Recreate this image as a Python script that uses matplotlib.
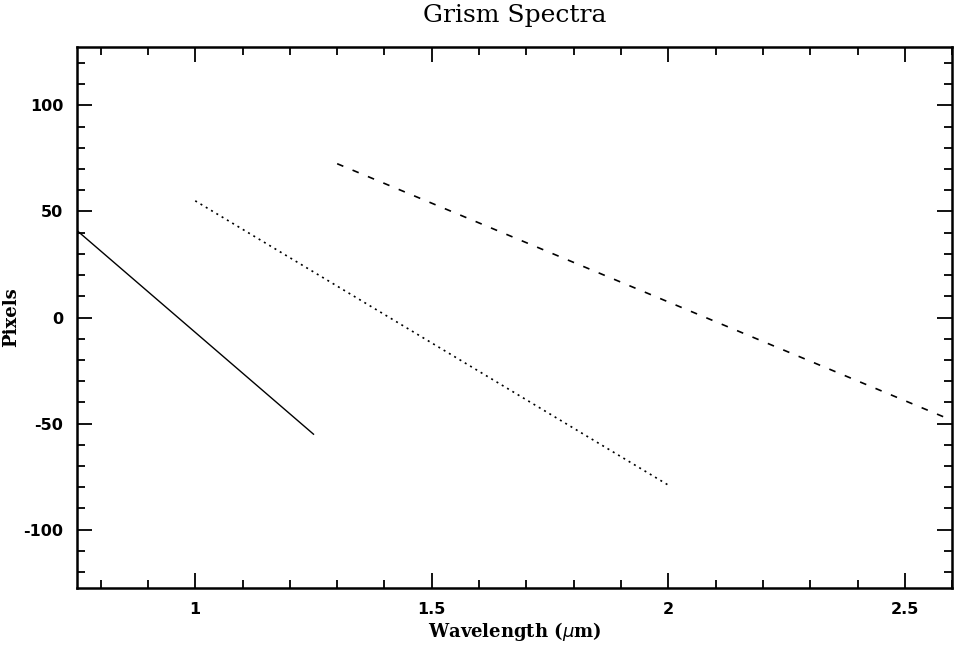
import matplotlib
matplotlib.use("Agg")
import matplotlib.pyplot as plt
import numpy as np
from matplotlib.ticker import MultipleLocator

plt.rcParams['axes.unicode_minus'] = False

# three grism orders: wavelength ends (um) and pixel offsets
solid_wave = [0.75, 1.25]
solid_pix = [41, -55]
dotted_wave = [1.0, 2.0]
dotted_pix = [55, -79]
dashed_wave = [1.3, 2.6]
dashed_pix = [72.5, -48.5]

fig = plt.figure(figsize=(9.55, 6.55), dpi=100)
ax = fig.add_axes([0.0806, 0.1023, 0.9164, 0.8259])

ax.plot(solid_wave, solid_pix, color='black', lw=1.0, ls='-')
ax.plot(dotted_wave, dotted_pix, color='black', lw=1.2, ls=(0, (1.2, 2.5)))
ax.plot(dashed_wave, dashed_pix, color='black', lw=1.2, ls=(0, (4, 6)))

ax.set_xlim(0.75, 2.6)
ax.set_ylim(-127.5, 127.5)

ax.xaxis.set_major_locator(MultipleLocator(0.5))
ax.xaxis.set_minor_locator(MultipleLocator(0.1))
ax.yaxis.set_major_locator(MultipleLocator(50))
ax.yaxis.set_minor_locator(MultipleLocator(10))
ax.set_xticks([1, 1.5, 2, 2.5])
ax.set_xticklabels(['1', '1.5', '2', '2.5'])

ax.tick_params(which='both', direction='in', top=True, right=True, width=1.3,
               labelsize=11.5, pad=10)
ax.tick_params(which='major', length=11)
ax.tick_params(which='minor', length=5.5)
for lab in ax.get_xticklabels() + ax.get_yticklabels():
    lab.set_fontweight('bold')
for s in ax.spines.values():
    s.set_linewidth(1.8)

ax.set_title('Grism Spectra', fontsize=18, family='DejaVu Serif', pad=18)
ax.set_xlabel(r'Wavelength ($\mu$m)', fontsize=13, family='DejaVu Serif',
              fontweight='bold', labelpad=2)
ax.set_ylabel('Pixels', fontsize=13, family='DejaVu Serif', fontweight='bold')
ax.yaxis.set_label_coords(-0.065, 0.5)

fig.savefig('out.png', dpi=100)
